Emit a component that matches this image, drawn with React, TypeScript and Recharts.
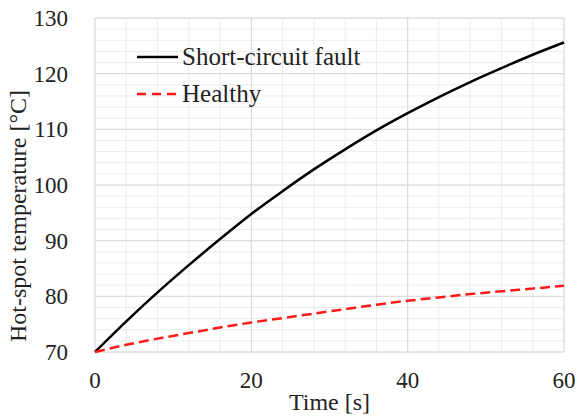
import React from "react";
import { LineChart, Line, XAxis, YAxis, CartesianGrid, Legend, Label } from "recharts";

const timeS = [0, 4, 8, 12, 16, 20, 24, 28, 32, 36, 40, 44, 48, 52, 56, 60];
const shortCircuit = [70, 75.5, 80.7, 85.6, 90.3, 94.8, 98.9, 102.8, 106.4, 109.8, 112.9, 115.8, 118.5, 121.0, 123.4, 125.6];
const healthy = [70, 71.3, 72.4, 73.4, 74.4, 75.3, 76.1, 76.9, 77.7, 78.5, 79.2, 79.8, 80.4, 80.9, 81.4, 81.9];
const xDomain = [0, 60];
const yDomain = [70, 130];
const xTicks = [0, 20, 40, 60];
const yTicks = [70, 80, 90, 100, 110, 120, 130];
const xMinorTicks = [0, 4, 8, 12, 16, 20, 24, 28, 32, 36, 40, 44, 48, 52, 56, 60];
const yMinorTicks = [70, 72, 74, 76, 78, 80, 82, 84, 86, 88, 90, 92, 94, 96, 98, 100, 102, 104, 106, 108, 110, 112, 114, 116, 118, 120, 122, 124, 126, 128, 130];
const seriesNames = ["Short-circuit fault", "Healthy"];

const data = timeS.map((t, i) => ({ t, sc: shortCircuit[i], h: healthy[i] }));

const FONT = "Liberation Serif, Tinos, Times New Roman, DejaVu Serif, serif";
const TEXT = "#222";

const applyScale = (axis: any, v: number): number | null => {
  const s = axis && axis.scale;
  if (typeof s === "function") return s(v);
  if (s && typeof s.map === "function") return s.map(v);
  if (s && typeof s.apply === "function") return s.apply(v);
  return null;
};

const genH = (p: any) => {
  const off = p.offset || {};
  return yMinorTicks.map((v) => {
    const r = applyScale(p.yAxis, v);
    if (typeof r === "number" && !isNaN(r)) return r;
    return off.top + off.height * (1 - (v - yDomain[0]) / (yDomain[1] - yDomain[0]));
  });
};

const genV = (p: any) => {
  const off = p.offset || {};
  return xMinorTicks.map((v) => {
    const r = applyScale(p.xAxis, v);
    if (typeof r === "number" && !isNaN(r)) return r;
    return off.left + (off.width * (v - xDomain[0])) / (xDomain[1] - xDomain[0]);
  });
};

const XTick = (props: any) => {
  const { x, y, payload } = props;
  return (
    <text x={x} y={y} dy={22} textAnchor="middle" style={{ fontFamily: FONT }} fontSize={23} fill={TEXT}>
      {payload.value}
    </text>
  );
};

const YTick = (props: any) => {
  const { x, y, payload } = props;
  return (
    <text x={x} y={y} dy={8} textAnchor="end" style={{ fontFamily: FONT }} fontSize={23} fill={TEXT}>
      {payload.value}
    </text>
  );
};

const LegendContent = () => (
  <div style={{ fontFamily: FONT, fontSize: 25, color: TEXT, lineHeight: "37px" }}>
    <div style={{ display: "flex", alignItems: "center" }}>
      <svg width={45} height={10}>
        <line x1={0} y1={5} x2={41} y2={5} stroke="#000" strokeWidth={2.5} />
      </svg>
      <span>{seriesNames[0]}</span>
    </div>
    <div style={{ display: "flex", alignItems: "center" }}>
      <svg width={45} height={10}>
        <line x1={0} y1={5} x2={41} y2={5} stroke="#ff1a1a" strokeWidth={2.5} strokeDasharray="9 6" />
      </svg>
      <span>{seriesNames[1]}</span>
    </div>
  </div>
);

export default function App() {
  return (
    <div style={{ position: "absolute", left: 0, top: 0, width: 578, height: 419, background: "#fff", fontFamily: FONT }}>
      <LineChart width={578} height={419} data={data} margin={{ top: 18, right: 14, left: 0, bottom: 0 }} style={{ fontFamily: FONT }}>
        <CartesianGrid
          stroke="#ececec"
          strokeWidth={1}
          horizontalCoordinatesGenerator={genH}
          verticalCoordinatesGenerator={genV}
        />
        <CartesianGrid stroke="#d9d9d9" strokeWidth={1} />
        <XAxis
          dataKey="t"
          type="number"
          domain={xDomain}
          ticks={xTicks}
          axisLine={false}
          tickLine={false}
          tickMargin={8}
          height={67}
          tick={XTick}
        >
          <Label
            content={(props: any) => {
              const vb = props.viewBox || {};
              return (
                <text
                  x={vb.x + vb.width / 2}
                  y={410}
                  textAnchor="middle"
                  style={{ fontFamily: FONT }}
                  fontSize={24}
                  fill={TEXT}
                >
                  Time [s]
                </text>
              );
            }}
          />
        </XAxis>
        <YAxis
          type="number"
          domain={yDomain}
          ticks={yTicks}
          axisLine={false}
          tickLine={false}
          tickMargin={21}
          width={95}
          tick={YTick}
        >
          <Label
            content={(props: any) => {
              const vb = props.viewBox || {};
              const cx = 18;
              const cy = vb.y + vb.height / 2 + 31;
              return (
                <text
                  x={cx}
                  y={cy}
                  transform={`rotate(-90 ${cx} ${cy})`}
                  textAnchor="middle"
                  dominantBaseline="central"
                  style={{ fontFamily: FONT }}
                  fontSize={24}
                  fill={TEXT}
                >
                  Hot-spot temperature [°C]
                </text>
              );
            }}
          />
        </YAxis>
        <Legend
          layout="vertical"
          verticalAlign="middle"
          align="center"
          content={LegendContent}
          wrapperStyle={{ left: 137, top: 38, width: 280 }}
        />
        <Line
          type="monotone"
          dataKey="sc"
          stroke="#000"
          strokeWidth={2.5}
          dot={false}
          isAnimationActive={false}
        />
        <Line
          type="monotone"
          dataKey="h"
          stroke="#ff1a1a"
          strokeWidth={2.5}
          strokeDasharray="10 5"
          dot={false}
          isAnimationActive={false}
        />
      </LineChart>
    </div>
  );
}
